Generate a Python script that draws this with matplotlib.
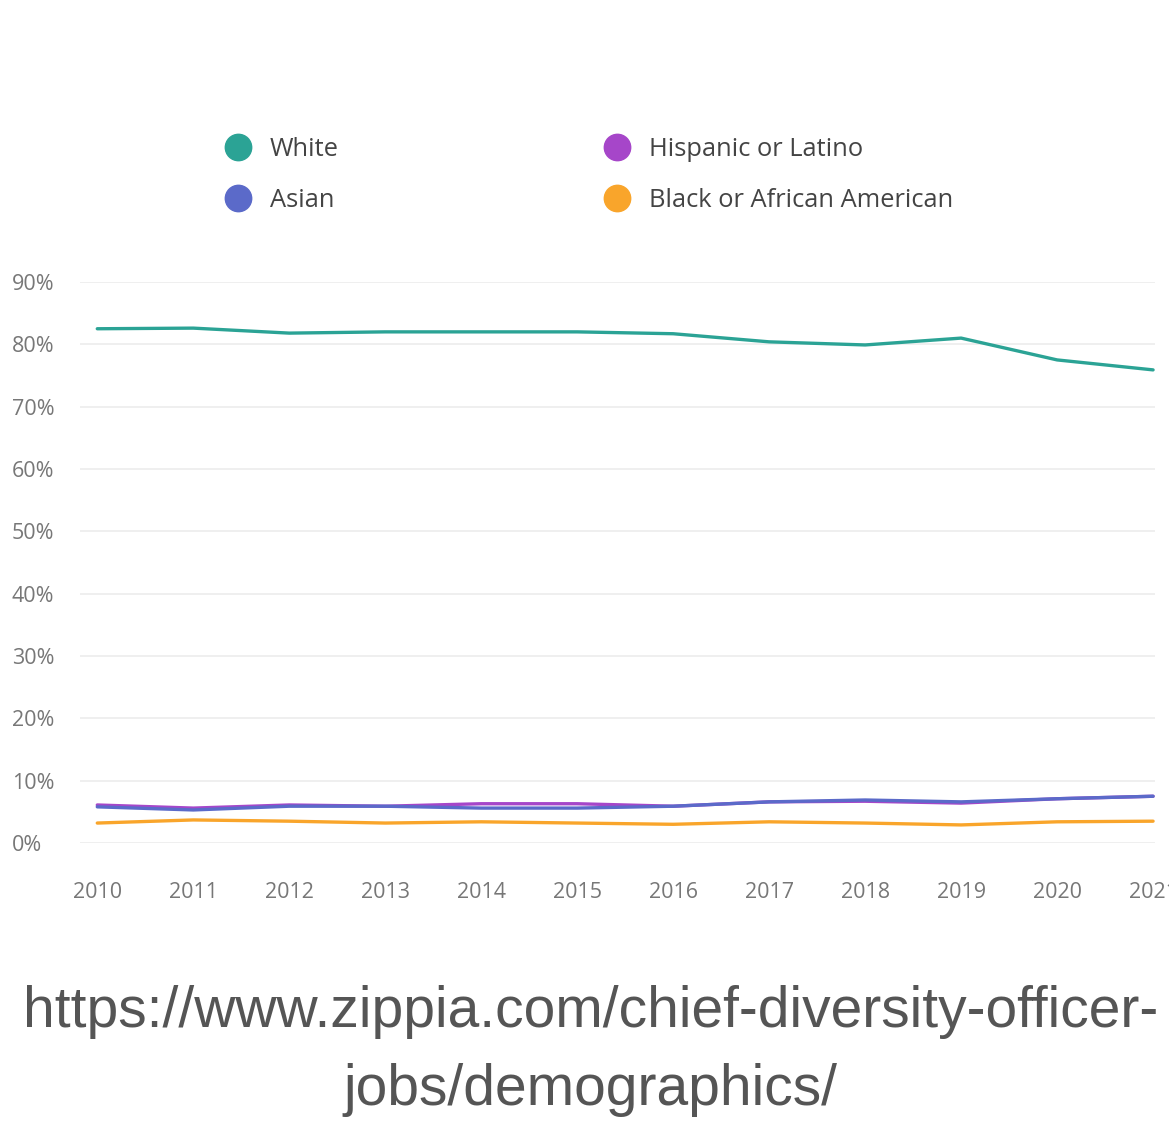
import matplotlib.pyplot as plt
from matplotlib.lines import Line2D

plt.rcParams['font.family'] = ['Open Sans', 'DejaVu Sans']

# Data (share of chief diversity officers, %)
years = [2010, 2011, 2012, 2013, 2014, 2015, 2016, 2017, 2018, 2019, 2020, 2021]
white = [82.5, 82.6, 81.8, 82.0, 82.0, 82.0, 81.7, 80.4, 79.9, 81.0, 77.5, 75.9]
asian = [5.8, 5.3, 5.9, 5.9, 5.6, 5.6, 5.9, 6.6, 6.9, 6.6, 7.1, 7.5]
hispanic = [6.1, 5.6, 6.1, 5.9, 6.3, 6.3, 5.9, 6.6, 6.7, 6.4, 7.1, 7.5]
black = [3.2, 3.7, 3.5, 3.2, 3.4, 3.2, 3.0, 3.4, 3.2, 2.9, 3.4, 3.5]
y_ticks = [0, 10, 20, 30, 40, 50, 60, 70, 80, 90]

series = [
    ('White', white, '#2BA395'),
    ('Asian', asian, '#5B6AC9'),
    ('Hispanic or Latino', hispanic, '#A646C9'),
    ('Black or African American', black, '#F9A52B'),
]

fig = plt.figure(figsize=(11.69, 11.28), dpi=100)
ax = fig.add_axes([80 / 1169, 285 / 1128, 1075 / 1169, 561 / 1128])

# draw orange first, purple/blue on top
for name, vals, col in [series[3], series[2], series[1], series[0]]:
    ax.plot(years, vals, color=col, linewidth=2.4, solid_capstyle='round')

ax.set_xlim(2009.82, 2021.02)
ax.set_ylim(0, 90)
ax.set_yticks(y_ticks)
ax.set_yticklabels([f'{t}%' for t in y_ticks])
ax.set_xticks(years)
ax.set_xticklabels([str(y) for y in years])
ax.grid(axis='y', color='#ececec', linewidth=1.2)
ax.set_axisbelow(True)
for s in ax.spines.values():
    s.set_visible(False)
ax.tick_params(axis='both', length=0, labelsize=15.5, labelcolor='#777777')
ax.tick_params(axis='y', pad=49)
for lab in ax.get_yticklabels():
    lab.set_horizontalalignment('left')
ax.tick_params(axis='x', pad=28)

handles = [Line2D([], [], linestyle='none', marker='o', markersize=19,
                  color=col, label=name) for name, vals, col in series]
fig.legend(handles=handles, ncol=2, loc='upper left',
           bbox_to_anchor=(225 / 1169, 1 - 137 / 1128), frameon=False,
           fontsize=18.4, labelcolor='#444444', handlelength=1.0,
           handletextpad=0.75, columnspacing=10.4, labelspacing=1.02,
           borderpad=0, borderaxespad=0)

fig.text(0.505, 1 - 1012 / 1128, 'https://www.zippia.com/chief-diversity-officer-',
         ha='center', va='center', fontsize=41, color='#555555',
         family='Liberation Sans')
fig.text(0.505, 1 - 1090 / 1128, 'jobs/demographics/',
         ha='center', va='center', fontsize=41, color='#555555',
         family='Liberation Sans')

fig.savefig('out.png', dpi=100, facecolor='white')
